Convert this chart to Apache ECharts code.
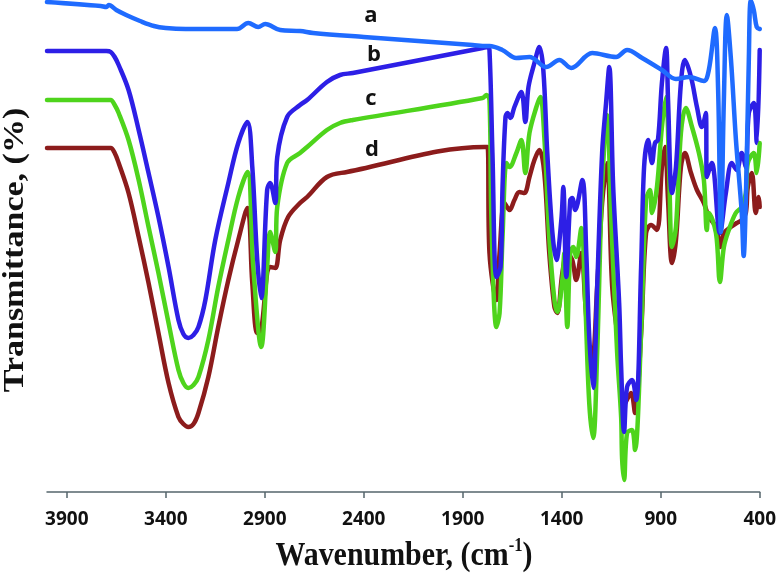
<!DOCTYPE html>
<html>
<head>
<meta charset="utf-8">
<script src="https://cdn.jsdelivr.net/npm/echarts@6/dist/echarts.min.js"></script>
<style>html,body{margin:0;padding:0;background:#fff}#c{width:779px;height:574px}</style>
</head>
<body>
<div id="c"></div>
<script>
// Wavenumber (cm-1) and transmittance (arbitrary, offset)
const tickValues = [3900, 3400, 2900, 2400, 1900, 1400, 900, 400];
const seriesNames = ['a', 'b', 'c', 'd'];

const aWn = [4000,3729,3700,3688,3650,3600,3530,3460,3400,3300,3100,3040,2983,2933,2898,2822,2722,2656,2400,1850,1780,1765,1700,1630,1563,1478,1412,1352,1246,1125,1070,994,894,823,758,682,657,626,610,596,581,566,545,520,491,481,470,455,445,430,415,400];
const aT  = [98,97.2,97,97.4,96.4,95.4,94.2,93.2,92.8,92.6,92.6,92.6,93.8,93,93.6,92.4,92.2,91.8,91,89.4,89.2,89.2,88.4,86.8,87,85,86.4,84.8,87.8,87,88.4,86.8,84.4,82.6,83,82.2,84.4,92.8,80.4,52,78.4,95.4,86.4,70.4,56,47.2,58.4,86.4,98.3,96.4,93,92.6];

const bWn = [4000,3700,3678,3658,3638,3588,3537,3487,3437,3386,3336,3311,3286,3260,3235,3200,3150,3084,3034,2988,2963,2938,2918,2888,2873,2847,2837,2787,2722,2686,2586,2520,2455,1800,1775,1765,1750,1730,1709,1699,1684,1674,1659,1639,1604,1584,1568,1538,1513,1493,1473,1447,1427,1402,1392,1377,1357,1347,1332,1296,1276,1261,1241,1221,1196,1176,1160,1140,1110,1100,1085,1070,1045,1024,999,984,964,944,929,914,894,873,863,843,823,798,778,747,717,692,672,667,642,601,571,541,516,491,470,455,430,415,400];
const bT  = [88.2,88.2,88,87,85.4,80.4,72.4,63.8,55,45,34.4,31.6,30.8,31.4,33,38.4,50.4,61.8,69.8,74,65,46.4,38.8,60.4,61.8,57.8,67,75,77.4,78.4,82,83.4,83.8,88.8,89,88.4,67.8,43,45,61,75,75.8,74.8,77,80,74,81,85.8,89,84.4,67.8,51.8,46.4,54.4,61,43,58.4,58.8,56.4,62.4,47.8,31,20.8,41,67.8,77.8,85,61,37.8,25,12,21,22.4,18.4,45,65,70.4,65.8,69.8,70.4,81.8,88.8,78.4,59.8,65,81.8,86.4,83,77,73,75.8,63,65.8,51.8,59.8,65.8,64.4,67.8,65,75.8,77.8,69.8,88.4];

const cWn = [4000,3700,3678,3658,3638,3588,3537,3487,3437,3386,3336,3311,3286,3260,3235,3185,3135,3084,3034,2988,2958,2918,2888,2873,2847,2837,2787,2722,2686,2586,2520,2455,1800,1780,1765,1755,1730,1714,1699,1679,1664,1629,1604,1584,1563,1528,1508,1488,1463,1437,1422,1397,1387,1372,1357,1342,1327,1301,1281,1261,1241,1221,1196,1171,1150,1120,1100,1095,1085,1070,1045,1030,999,974,954,944,919,894,873,858,843,823,798,773,742,707,682,667,657,621,601,581,556,521,491,470,460,430,415,400];
const cT  = [78.4,78.4,78.4,77.4,75.8,70.4,62.4,53,43.8,33.8,24.4,21.8,20.8,21.4,23,30.4,41,50.4,59,64,45,29,45,52,48,57,65.8,67.8,69,72.4,73.8,74.4,78.8,79.4,78.4,54.4,33,35.8,51,65.8,65,67.8,70.4,63.8,71.8,77,79,71,51,38.4,36,42.4,47.8,33,47.8,49,47,52.8,37.8,17.8,10.8,27.8,61,75.4,54.4,27.8,15,6.6,2.4,11.8,12.4,8.4,31.8,58.4,60.4,55.8,61,73,79,65,49,53,71.8,76.8,73,67.8,62.4,52.4,55.8,51.8,42,49,52.4,55.8,57,59.8,65.8,67.8,63.8,69.8];

const dWn = [4000,3700,3678,3658,3638,3588,3537,3487,3437,3386,3336,3311,3286,3260,3235,3185,3135,3084,3034,2988,2963,2938,2918,2888,2873,2847,2822,2782,2722,2686,2586,2485,1790,1775,1765,1730,1714,1689,1664,1639,1614,1589,1563,1538,1513,1488,1463,1437,1422,1397,1372,1347,1327,1301,1281,1261,1246,1221,1196,1171,1145,1110,1085,1050,1030,999,974,949,919,894,878,863,843,823,798,778,747,717,682,657,621,601,581,546,516,491,470,460,440,420,405,400];
const dT  = [68.8,68.8,68.8,67.8,65.8,59.8,51,41.8,31.8,21.8,15,13.6,13,13.6,15.8,23,33,42.4,50.4,56.8,41.8,31.8,32.4,43.8,45,44.8,50.4,55,57.8,59,63,64,69,69,47.8,38.4,47.8,57.8,56.4,58.4,60,59.8,63,66.4,68.4,63.8,47.8,37,35.8,43.8,47.8,46.4,42.4,47.8,37.8,27.8,26.4,41,57.8,65.8,41,28.4,17.4,19.8,15.8,31.8,51.8,53.4,52.4,65,69,58.4,45.8,50.4,65,67.8,63.8,60.4,57.8,55,53,49,51.8,53,53.8,54.4,55.8,61,63.8,55.8,59,57];

const colors = {a: '#1f6bff', b: '#2d1fe6', c: '#4ed41c', d: '#8c1c1c'};

function zip(xs, ys) { return xs.map((x, i) => [x, ys[i]]); }

const chart = echarts.init(document.getElementById('c'), null, {renderer: 'canvas'});

function mk(name, xs, ys, z) {
  return {
    name: name, type: 'line', data: zip(xs, ys), showSymbol: false, symbol: 'none',
    smooth: 0.35, z: z, clip: false,
    lineStyle: {width: 4.5, color: colors[name], cap: 'round', join: 'round'},
    itemStyle: {color: colors[name]}, animation: false
  };
}

const lblFont = 'bold 22px "Open Sans"';
chart.setOption({
  animation: false,
  grid: {left: 47, right: 18, top: 0, bottom: 82, containLabel: false},
  xAxis: {
    type: 'value', min: 400, max: 4000, inverse: true, interval: 500,
    axisLine: {show: true, lineStyle: {color: '#56666c', width: 1.5}},
    axisTick: {show: true, length: 6, inside: false, customValues: tickValues, lineStyle: {color: '#56666c', width: 1.5}},
    axisLabel: {show: true, customValues: tickValues, margin: 18, color: '#111', fontFamily: 'Open Sans', fontWeight: 'bold', fontSize: 19,
      formatter: v => String(v)},
    splitLine: {show: false}
  },
  yAxis: {type: 'value', min: 0, max: 98.4, show: false, splitLine: {show: false}},
  series: [mk('d', dWn, dT, 2), mk('c', cWn, cT, 3), mk('b', bWn, bT, 4), mk('a', aWn, aT, 5)],
  graphic: [
    {type: 'text', x: 371, y: 16, style: {text: 'a', font: lblFont, fill: '#111', align: 'center', verticalAlign: 'middle'}},
    {type: 'text', x: 374, y: 55, style: {text: 'b', font: lblFont, fill: '#111', align: 'center', verticalAlign: 'middle'}},
    {type: 'text', x: 371, y: 99, style: {text: 'c', font: lblFont, fill: '#111', align: 'center', verticalAlign: 'middle'}},
    {type: 'text', x: 372, y: 150, style: {text: 'd', font: lblFont, fill: '#111', align: 'center', verticalAlign: 'middle'}},
    {type: 'text', x: 404, y: 556, scaleX: 0.88,
      style: {text: '{n|Wavenumber, (cm}{s|-1}{n|)}', align: 'center', verticalAlign: 'middle',
        rich: {n: {font: 'bold 34px "Liberation Serif"', fill: '#111', lineHeight: 38},
               s: {font: 'bold 19px "Liberation Serif"', fill: '#111', verticalAlign: 'top', lineHeight: 38, padding: [0,0,14,0]}}}},
    {type: 'text', x: 15, y: 250, rotation: Math.PI / 2, scaleY: 0.88,
      style: {text: 'Transmittance, (%)', align: 'center', verticalAlign: 'middle', font: 'bold 34px "Liberation Serif"', fill: '#111'}}
  ]
});
</script>
</body>
</html>
